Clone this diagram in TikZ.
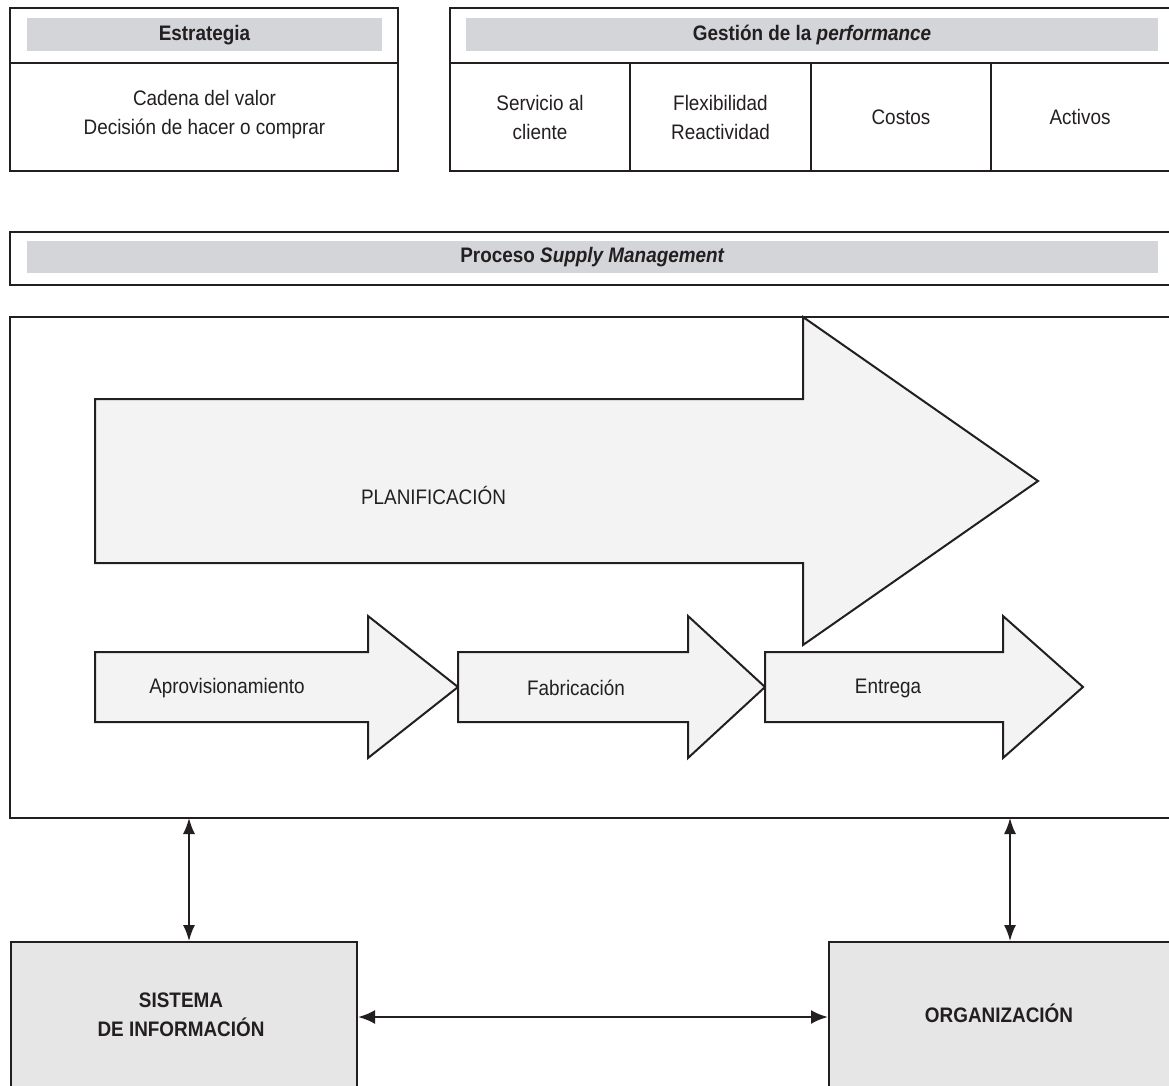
\documentclass[tikz,border=0pt]{standalone}
\usepackage{fontspec}
\setmainfont[FakeStretch=0.9]{Liberation Sans}
\usetikzlibrary{arrows.meta}
\definecolor{ink}{RGB}{35,31,32}
\definecolor{barcol}{RGB}{212,213,216}
\definecolor{arrowfill}{RGB}{243,243,243}
\definecolor{boxfill}{RGB}{230,230,230}
\begin{document}
\begin{tikzpicture}[x=1pt,y=-1pt,
  every node/.style={font=\fontsize{21}{29}\selectfont, text=ink, inner sep=0pt, align=center},
  frame/.style={draw=ink, line width=2pt, outer sep=0pt, anchor=north west},
  divider/.style={draw=ink, line width=2pt},
  bar/.style={fill=barcol, font=\fontsize{21}{29}\selectfont\bfseries},
  flow/.style={draw=ink, line width=2pt, fill=arrowfill, line join=miter},
  unit/.style={draw=ink, line width=2pt, fill=boxfill, anchor=north west, font=\fontsize{21}{29}\selectfont\bfseries},
  lbl/.style={font=\fontsize{21}{29}\selectfont\bfseries},
  vlink/.style={draw=ink, line width=1.6pt, {Latex[length=16pt,width=12pt]}-{Latex[length=16pt,width=12pt]}},
  hlink/.style={draw=ink, line width=2.5pt, {Latex[length=17pt,width=14pt]}-{Latex[length=17pt,width=14pt]}}
]
\useasboundingbox (0,0) rectangle (1169,1086);
\clip (0,0) rectangle (1169,1086);

% Estrategia
\node[frame, minimum width=388pt, minimum height=163pt] (estr) at (10,8) {};
\draw[divider] (10,63) -- (398,63);
\node[bar, minimum width=355pt, minimum height=33pt] (estrbar) at (204.5,35) {Estrategia};
\node (estrtxt) at (204.5,115) {Cadena del valor\\Decisión de hacer o comprar};

% Gestion de la performance
\node[frame, minimum width=722pt, minimum height=163pt] (gest) at (450,8) {};
\draw[divider] (450,63) -- (1172,63);
\draw[divider] (630,63) -- (630,171);
\draw[divider] (811,63) -- (811,171);
\draw[divider] (991,63) -- (991,171);
\node[bar, minimum width=692pt, minimum height=33pt] (gestbar) at (812,35) {Gestión de la \textit{performance}};
\node (c1) at (540,117) {Servicio al\\cliente};
\node (c2) at (720.5,117) {Flexibilidad\\Reactividad};
\node (c3) at (901,117) {Costos};
\node (c4) at (1080,117) {Activos};

% Proceso Supply Management
\node[frame, minimum width=1162pt, minimum height=53pt] (proc) at (10,232) {};
\node[bar, minimum width=1131pt, minimum height=32pt] (procbar) at (592.5,257) {Proceso \textit{Supply Management}};

% Main box
\node[frame, minimum width=1162pt, minimum height=501pt] (main) at (10,317) {};

% Planificacion arrow
\draw[flow] (95,399) -- (803,399) -- (803,317) -- (1038,481) -- (803,645) -- (803,563) -- (95,563) -- cycle;
\node (plan) at (433.5,495) {PLANIFICACIÓN};

% small arrows
\draw[flow] (95,652) -- (368,652) -- (368,616) -- (458,687) -- (368,758) -- (368,722) -- (95,722) -- cycle;
\draw[flow] (458,652) -- (688,652) -- (688,616) -- (765,687) -- (688,758) -- (688,722) -- (458,722) -- cycle;
\draw[flow] (765,652) -- (1003,652) -- (1003,616) -- (1083,687) -- (1003,758) -- (1003,722) -- (765,722) -- cycle;
\node (aprov) at (227,688) {Aprovisionamiento};
\node (fab) at (576,688) {Fabricación};
\node (entr) at (888,688) {Entrega};

% bottom boxes
\node[unit, minimum width=346pt, minimum height=160pt] (sis) at (10,941) {};
\node[unit, minimum width=344pt, minimum height=160pt] (org) at (828,941) {};
\node[lbl] (sistxt) at (181,1014.5) {SISTEMA\\DE INFORMACIÓN};
\node[lbl] (orgtxt) at (999,1013) {ORGANIZACIÓN};

% connectors
\coordinate (xl) at (189,0);
\coordinate (xr) at (1010,0);
\coordinate (yh) at (0,1017);
\draw[vlink] (main.south -| xl) -- (sis.north -| xl);
\draw[vlink] (main.south -| xr) -- (org.north -| xr);
\draw[hlink] (sis.east |- yh) -- (org.west |- yh);
\end{tikzpicture}
\end{document}
